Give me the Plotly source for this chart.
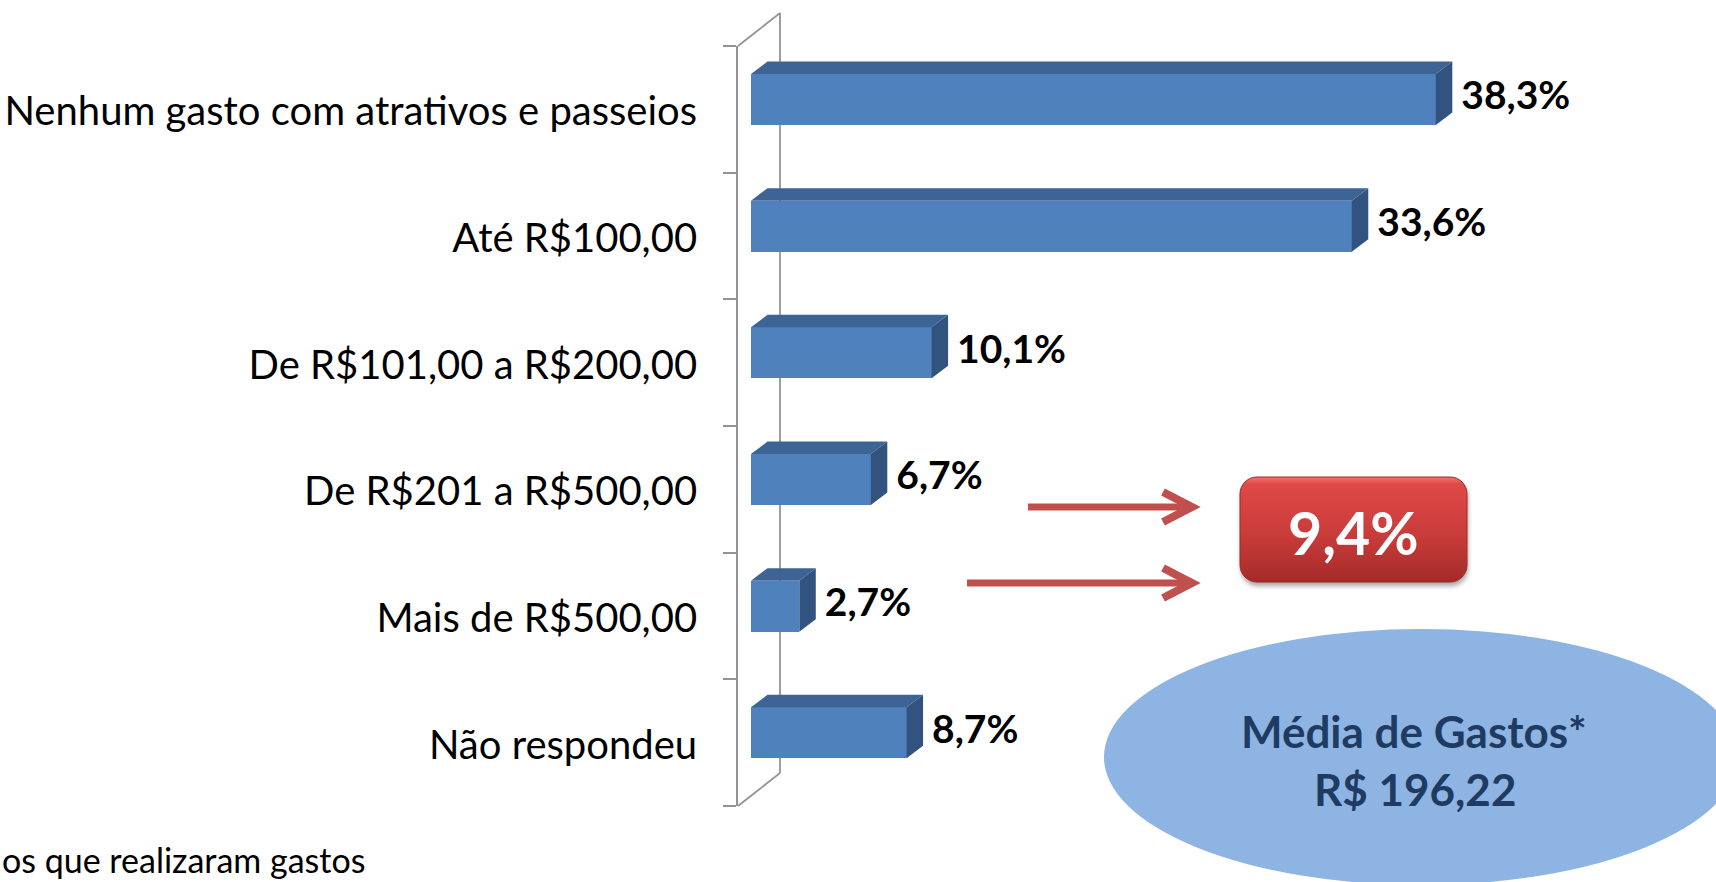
import base64
import plotly.graph_objects as go

# ---------------- data ----------------
categories = [
    "Nenhum gasto com atrativos e passeios",
    "Até R$100,00",
    "De R$101,00 a R$200,00",
    "De R$201 a R$500,00",
    "Mais de R$500,00",
    "Não respondeu",
]
values = [38.3, 33.6, 10.1, 6.7, 2.7, 8.7]
highlight_value = 9.4
mean_title = "Média de Gastos*"
mean_value = "R$ 196,22"
footnote = "os que realizaram gastos"

# ---------------- geometry / style ----------------
W, H = 1716, 882
ML, MR, MT, MB = 738, 0, 46, 76
PW, PH = W - ML - MR, H - MT - MB
PX_PER_UNIT = 17.88
X0 = -(751 - ML) / PX_PER_UNIT
X1 = X0 + PW / PX_PER_UNIT
CAT_PX = PH / len(categories)

BAR_W = 0.403
BAR_OFF = -0.279
DX = 16.5 / PX_PER_UNIT
DY = 12.5 / CAT_PX
GAP = 9 / PX_PER_UNIT

FRONT = "#4f81bd"
TOP = "#3d6495"
SIDE = "#32537f"
GRAY = "#939393"
FONT = "Lato"

pos = list(range(len(categories)))


def fmt(v):
    return f"{v:.1f}".replace(".", ",") + "%"


def px(X):
    return (X - ML) / PW


def py(Y):
    return (H - MB - Y) / PH


fig = go.Figure()

# front faces
fig.add_trace(go.Bar(
    x=values, y=pos, orientation="h", width=BAR_W, offset=BAR_OFF,
    marker=dict(color=FRONT, line=dict(width=0)), hoverinfo="skip",
))

# top and side faces (3D effect), derived from the values
tx, ty, sx, sy = [], [], [], []
for c, v in zip(pos, values):
    yt = c + BAR_OFF
    yb = c + BAR_OFF + BAR_W
    tx += [0, v, v + DX, DX, 0, None]
    ty += [yt, yt, yt - DY, yt - DY, yt, None]
    sx += [v, v + DX, v + DX, v, v, None]
    sy += [yt, yt - DY, yb - DY, yb, yt, None]
fig.add_trace(go.Scatter(x=tx, y=ty, mode="lines", fill="toself", fillcolor=TOP,
                         line=dict(width=0, color=TOP), hoverinfo="skip"))
fig.add_trace(go.Scatter(x=sx, y=sy, mode="lines", fill="toself", fillcolor=SIDE,
                         line=dict(width=0, color=SIDE), hoverinfo="skip"))

# value labels
fig.add_trace(go.Scatter(
    x=[v + DX + GAP for v in values],
    y=[c + BAR_OFF + BAR_W / 2 for c in pos],
    mode="text", text=[fmt(v) for v in values], textposition="middle right",
    textfont=dict(family=FONT, size=39, color="black", weight="bold"),
    hoverinfo="skip", cliponaxis=False,
))

shapes = []
# 3D wall outline
bx = px(780)
by_top = py(13)
by_bot = py(773)
for x0, y0, x1, y1 in [(bx, by_bot, bx, by_top), (0, 1, bx, by_top), (0, 0, bx, by_bot)]:
    shapes.append(dict(type="line", xref="paper", yref="paper", x0=x0, x1=x1, y0=y0, y1=y1,
                       line=dict(color=GRAY, width=1.8), layer="below"))

# arrows
ARROW = "#c0504d"
for xs, yy in [(1028, 507), (967, 583)]:
    shapes.append(dict(type="line", xref="paper", yref="paper", x0=px(xs), x1=px(1188),
                       y0=py(yy), y1=py(yy), line=dict(color=ARROW, width=7)))
    path = f"M {px(1163)},{py(yy - 15)} L {px(1192)},{py(yy)} L {px(1163)},{py(yy + 15)}"
    shapes.append(dict(type="path", xref="paper", yref="paper", path=path,
                       line=dict(color=ARROW, width=8)))

# ellipse
shapes.append(dict(type="circle", xref="paper", yref="paper", x0=px(1104), x1=px(1738),
                   y0=py(885), y1=py(629), fillcolor="#8eb4e3", line=dict(width=0), layer="above"))

# red rounded box (gradient) as inline svg image
svg = """<svg xmlns='http://www.w3.org/2000/svg' width='240' height='120' viewBox='0 0 240 120'>
<defs>
<linearGradient id='g' x1='0' y1='0' x2='0' y2='1'>
<stop offset='0' stop-color='#f27370'/>
<stop offset='0.07' stop-color='#df4946'/>
<stop offset='0.55' stop-color='#c93c3a'/>
<stop offset='1' stop-color='#a42b29'/>
</linearGradient>
<filter id='s' x='-10%' y='-10%' width='120%' height='130%'><feGaussianBlur stdDeviation='2.5'/></filter>
</defs>
<rect x='6' y='7' width='227' height='105' rx='17' fill='#000' opacity='0.35' filter='url(#s)'/>
<rect x='5' y='3' width='227' height='105' rx='17' fill='url(#g)' stroke='#9b2a28' stroke-width='1'/>
</svg>"""
src = "data:image/svg+xml;base64," + base64.b64encode(svg.encode()).decode()

annotations = [
    dict(xref="paper", yref="paper", x=px(1353), y=py(532), text=fmt(highlight_value),
         showarrow=False, font=dict(family=FONT, size=59, color="white", weight="bold"),
         xanchor="center", yanchor="middle"),
    dict(xref="paper", yref="paper", x=px(1414), y=py(731), text=mean_title,
         showarrow=False, font=dict(family=FONT, size=44, color="#1f3b62", weight="bold"),
         xanchor="center", yanchor="middle"),
    dict(xref="paper", yref="paper", x=px(1415), y=py(789), text=mean_value,
         showarrow=False, font=dict(family=FONT, size=44, color="#1f3b62", weight="bold"),
         xanchor="center", yanchor="middle"),
    dict(xref="paper", yref="paper", x=px(0), y=py(860), text=footnote,
         showarrow=False, font=dict(family=FONT, size=34, color="black"),
         xanchor="left", yanchor="middle"),
]

fig.update_layout(
    width=W, height=H,
    margin=dict(l=ML, r=MR, t=MT, b=MB, pad=0),
    paper_bgcolor="white", plot_bgcolor="white",
    showlegend=False,
    bargap=0,
    shapes=shapes,
    annotations=annotations,
    images=[dict(source=src, xref="paper", yref="paper", x=px(1235), y=py(474),
                 sizex=240 / PW, sizey=120 / PH, xanchor="left", yanchor="top",
                 sizing="stretch", layer="above")],
    xaxis=dict(range=[X0, X1], visible=False, fixedrange=True),
    yaxis=dict(
        range=[len(categories) - 0.5, -0.5],
        tickmode="array", tickvals=pos, ticktext=categories,
        ticks="", showgrid=False, zeroline=False,
        showline=True, linecolor=GRAY, linewidth=1.8,
        tickfont=dict(family=FONT, size=40, color="black"),
        ticklabelstandoff=31, ticklabelshift=-2,
        minor=dict(tickmode="array", tickvals=[p - 0.5 for p in pos] + [len(categories) - 0.5],
                   ticks="outside", ticklen=13, tickcolor=GRAY, tickwidth=1.8, showgrid=False),
        fixedrange=True,
    ),
)

fig.write_html("out.html", config={"displayModeBar": False},
               post_script="document.body.style.margin='0px';")
